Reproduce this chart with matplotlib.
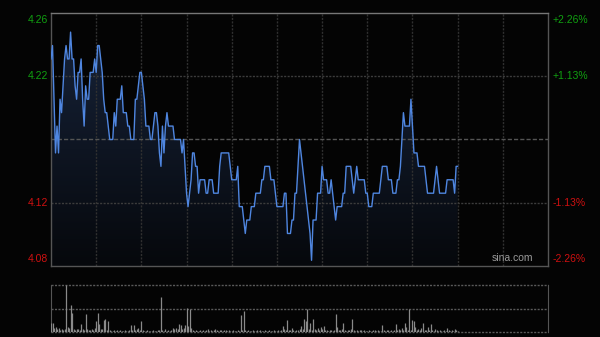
import matplotlib
matplotlib.use("Agg")
import matplotlib.pyplot as plt
import numpy as np
from matplotlib.patches import Polygon
from matplotlib.colors import LinearSegmentedColormap

prev_close = 4.17
price = [
    4.23, 4.24, 4.20, 4.16, 4.18, 4.16, 4.20, 4.19, 4.21, 4.23,
    4.24, 4.23, 4.23, 4.25, 4.23, 4.23, 4.21, 4.20, 4.22, 4.22,
    4.23, 4.20, 4.18, 4.21, 4.20, 4.20, 4.22, 4.22, 4.22, 4.23,
    4.22, 4.24, 4.24, 4.23, 4.22, 4.20, 4.19, 4.19, 4.18, 4.17,
    4.17, 4.17, 4.19, 4.18, 4.20, 4.20, 4.20, 4.21, 4.19, 4.19,
    4.19, 4.18, 4.18, 4.17, 4.17, 4.17, 4.20, 4.20, 4.21, 4.22,
    4.22, 4.21, 4.20, 4.18, 4.18, 4.18, 4.17, 4.17, 4.18, 4.19,
    4.19, 4.18, 4.16, 4.15, 4.18, 4.16, 4.18, 4.19, 4.18, 4.18,
    4.18, 4.18, 4.17, 4.17, 4.17, 4.17, 4.17, 4.16, 4.17, 4.15,
    4.13, 4.12, 4.13, 4.14, 4.16, 4.16, 4.15, 4.15, 4.13, 4.14,
    4.14, 4.14, 4.14, 4.13, 4.13, 4.14, 4.14, 4.14, 4.13, 4.13,
    4.13, 4.13, 4.15, 4.16, 4.16, 4.16, 4.16, 4.16, 4.16, 4.15,
    4.14, 4.14, 4.14, 4.14, 4.15, 4.12, 4.12, 4.12, 4.11, 4.10,
    4.11, 4.11, 4.11, 4.12, 4.12, 4.12, 4.13, 4.13, 4.13, 4.13,
    4.14, 4.14, 4.15, 4.15, 4.15, 4.15, 4.14, 4.14, 4.14, 4.13,
    4.12, 4.12, 4.12, 4.12, 4.12, 4.13, 4.13, 4.10, 4.10, 4.10,
    4.11, 4.11, 4.13, 4.13, 4.15, 4.17, 4.16, 4.15, 4.14, 4.13,
    4.12, 4.11, 4.10, 4.08, 4.11, 4.11, 4.11, 4.13, 4.13, 4.13,
    4.15, 4.14, 4.14, 4.14, 4.13, 4.13, 4.14, 4.13, 4.12, 4.11,
    4.12, 4.12, 4.12, 4.12, 4.13, 4.13, 4.15, 4.15, 4.15, 4.15,
    4.14, 4.13, 4.14, 4.15, 4.14, 4.14, 4.14, 4.14, 4.14, 4.13,
    4.13, 4.12, 4.12, 4.12, 4.13, 4.13, 4.13, 4.13, 4.13, 4.14,
    4.15, 4.15, 4.15, 4.15, 4.14, 4.14, 4.14, 4.13, 4.13, 4.13,
    4.14, 4.14, 4.15, 4.17, 4.19, 4.18, 4.18, 4.18, 4.18, 4.20,
    4.18, 4.16, 4.16, 4.16, 4.15, 4.15, 4.15, 4.15, 4.15, 4.14,
    4.13, 4.13, 4.13, 4.13, 4.13, 4.14, 4.15, 4.14, 4.13, 4.13,
    4.13, 4.13, 4.13, 4.14, 4.14, 4.14, 4.14, 4.14, 4.13, 4.15,
    4.15,
]
volume = [
    20, 20, 8, 10, 6, 8, 5, 7, 4, 6,
    100, 10, 8, 57, 41, 6, 5, 7, 6, 5,
    17, 6, 5, 38, 7, 5, 4, 6, 5, 8,
    23, 41, 18, 6, 7, 26, 28, 5, 23, 4,
    3, 3, 4, 3, 5, 3, 4, 3, 3, 4,
    3, 3, 4, 15, 5, 15, 4, 6, 9, 5,
    23, 4, 3, 3, 4, 3, 3, 3, 4, 3,
    3, 4, 5, 75, 4, 3, 6, 3, 4, 3,
    5, 8, 6, 9, 7, 16, 15, 6, 8, 14,
    52, 12, 50, 8, 4, 3, 4, 3, 3, 4,
    3, 5, 3, 4, 6, 3, 4, 3, 5, 6,
    4, 3, 5, 4, 3, 4, 5, 3, 4, 3,
    3, 4, 3, 3, 4, 3, 36, 5, 45, 4,
    3, 4, 3, 3, 4, 3, 3, 4, 3, 4,
    3, 3, 4, 3, 3, 4, 3, 3, 4, 3,
    3, 4, 3, 5, 12, 6, 4, 26, 5, 4,
    8, 4, 3, 5, 4, 6, 13, 6, 27, 23,
    49, 6, 20, 5, 27, 7, 4, 8, 5, 10,
    6, 13, 5, 4, 3, 4, 5, 3, 4, 39,
    10, 4, 5, 6, 20, 4, 3, 5, 4, 6,
    27, 4, 3, 4, 3, 4, 5, 3, 4, 3,
    3, 4, 3, 3, 4, 5, 3, 4, 3, 3,
    15, 4, 3, 5, 4, 3, 4, 3, 4, 17,
    5, 6, 4, 8, 5, 20, 10, 4, 50, 5,
    25, 23, 10, 5, 6, 4, 8, 20, 5, 4,
    11, 5, 17, 4, 3, 6, 4, 3, 4, 3,
    3, 4, 3, 9, 4, 3, 4, 3, 6, 4,
    3,
]
left_labels = ["4.26", "4.22", "4.12", "4.08"]
right_labels = ["+2.26%", "+1.13%", "-1.13%", "-2.26%"]

total_minutes = 330
span = 0.0226
ymax = prev_close * (1 + span)
ymin = prev_close * (1 - span)

bg = "#040404"
fig = plt.figure(figsize=(6, 3.37), dpi=100, facecolor=bg)

ax = fig.add_axes([51 / 600, 1 - 266 / 337, 497 / 600, 253 / 337])
ax.set_facecolor(bg)
ax.set_xlim(0, total_minutes)
ax.set_ylim(ymin, ymax)
x = np.arange(len(price))
p = np.array(price)

# gradient fill under line
verts = [(x[0], ymin)] + list(zip(x, p)) + [(x[-1], ymin)]
poly = Polygon(verts, closed=True, facecolor="none", edgecolor="none")
ax.add_patch(poly)
grad = np.linspace(1, 0, 256).reshape(-1, 1)
cmap = LinearSegmentedColormap.from_list("g", ["#06080c", "#162238"])
im = ax.imshow(grad, extent=[0, total_minutes, ymin, p.max()], aspect="auto",
               cmap=cmap, vmin=0, vmax=1, origin="upper", zorder=2,
               interpolation="bilinear")
im.set_clip_path(poly)
ax.set_xlim(0, total_minutes)
ax.set_ylim(ymin, ymax)

# grid (drawn over the fill)
for gx in range(30, total_minutes, 30):
    ax.axvline(gx, color="#303030", lw=1, ls=(0, (1.5, 1)), zorder=2.5)
levels = [ymin + (ymax - ymin) * k / 4 for k in range(1, 4)]
for k, lv in enumerate(levels):
    if k == 1:
        ax.axhline(lv, color="#555555", lw=1, ls=(0, (3, 1.5)), zorder=2.5)
    else:
        ax.axhline(lv, color="#3c3c3c", lw=1, ls=(0, (1.5, 1)), zorder=2.5)

ax.plot(x, p, color="#4f86e0", lw=1.0, zorder=3)

for s in ax.spines.values():
    s.set_color("#555555")
    s.set_linewidth(1)
ax.spines["top"].set_color("#777777")
ax.set_xticks([])
ax.set_yticks([])

ticks = [ymax, levels[2], levels[0], ymin]
colors = ["#10a010", "#10a010", "#d01010", "#d01010"]
vas = ["top", "center", "center", "bottom"]
offs = [-2, 0, 0, 2]
for t, lab, rl, c, va, o in zip(ticks, left_labels, right_labels, colors, vas, offs):
    ax.annotate(lab, (0, t), xycoords=("axes fraction", "data"), xytext=(-3, o),
                textcoords="offset pixels", ha="right", va=va, color=c,
                fontsize=7.5, family="Liberation Sans")
    ax.annotate(rl, (1, t), xycoords=("axes fraction", "data"), xytext=(5, o),
                textcoords="offset pixels", ha="left", va=va, color=c,
                fontsize=7.5, family="Liberation Sans")

ax.text(0.97, 0.012, "sina.com", transform=ax.transAxes, ha="right", va="bottom",
        color="#9a9a9a", fontsize=7.5, family="Liberation Sans", zorder=4)

# volume axes
vax = fig.add_axes([51 / 600, 1 - 332 / 337, 497 / 600, 47 / 337])
vax.set_facecolor(bg)
vax.set_xlim(0, total_minutes)
vmax = max(volume)
vax.set_ylim(0, vmax)
vax.vlines(x, 0, volume, color="#8a8a8a", lw=0.9, zorder=3)
for lv in [0, vmax / 2, vmax]:
    vax.axhline(lv, color="#5a5a5a", lw=1, ls=(0, (1.5, 1)), zorder=1, clip_on=False)
for k in ["top", "bottom"]:
    vax.spines[k].set_visible(False)
for k in ["left", "right"]:
    vax.spines[k].set_color("#555555")
vax.set_xticks([])
vax.set_yticks([])

fig.savefig("out.png", dpi=100, facecolor=bg)
